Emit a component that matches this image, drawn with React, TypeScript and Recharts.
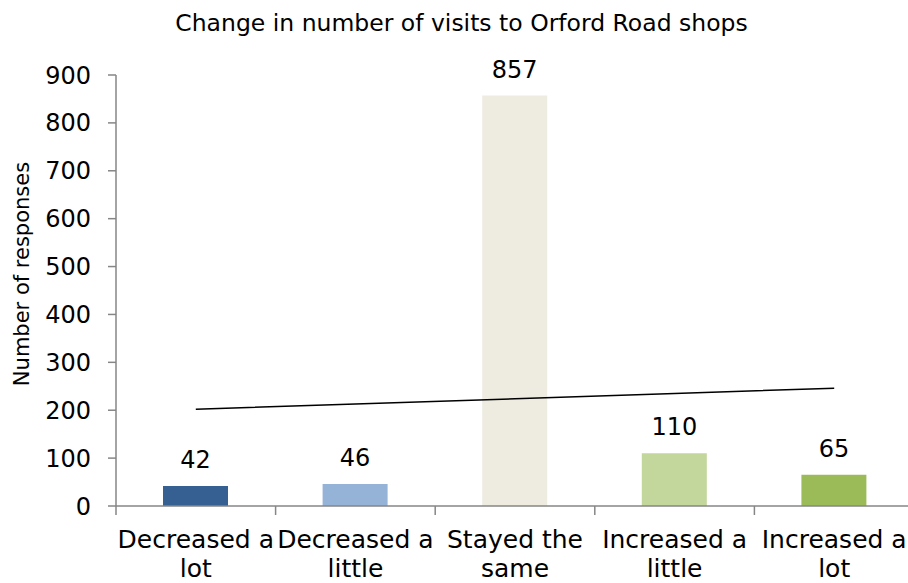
import React from 'react';
import {
  ComposedChart,
  Bar,
  Line,
  XAxis,
  YAxis,
  Cell,
  LabelList
} from 'recharts';

const categories = [
  'Decreased a lot',
  'Decreased a little',
  'Stayed the same',
  'Increased a little',
  'Increased a lot'
];
const responses = [42, 46, 857, 110, 65];
// linear trend line
const trend = [202, 213, 224, 235, 246];
const yTicks = [0, 100, 200, 300, 400, 500, 600, 700, 800, 900];

const barColors = ['#376092', '#95B3D7', '#EEECE1', '#C3D69B', '#9BBB59'];
const FONT = '"DejaVu Sans", sans-serif';
const AXIS = '#868686';

const data = categories.map((name, i) => ({
  name,
  responses: responses[i],
  trend: trend[i]
}));

// label in two lines, plus tick marks on the category boundaries (Excel style)
const CategoryTick = (props: any) => {
  const { x, y, payload, index, width, visibleTicksCount } = props;
  const half = payload.offset || width / visibleTicksCount / 2;
  const words = String(payload.value).split(' ');
  const last = words.pop();
  return (
    <g>
      <line x1={x - half} x2={x - half} y1={y} y2={y + 9} stroke={AXIS} strokeWidth={1.5} />
      {index === visibleTicksCount - 1 && (
        <line x1={x + half} x2={x + half} y1={y} y2={y + 9} stroke={AXIS} strokeWidth={1.5} />
      )}
      <text x={x} y={y} textAnchor="middle" fontSize={25} fill="#000" fontFamily={FONT}>
        <tspan x={x} dy={42}>{words.join(' ')}</tspan>
        <tspan x={x} dy={29}>{last}</tspan>
      </text>
    </g>
  );
};

const App: React.FC = () => {
  return (
    <div
      style={{
        position: 'fixed',
        left: 0,
        top: 0,
        width: 908,
        height: 583,
        overflow: 'hidden',
        background: '#fff',
        fontFamily: FONT
      }}
    >
      <div
        style={{
          position: 'absolute',
          left: 0,
          top: 12,
          width: 923,
          textAlign: 'center',
          fontSize: 23.5,
          lineHeight: '23.5px',
          color: '#000'
        }}
      >
        Change in number of visits to Orford Road shops
      </div>
      <div
        style={{
          position: 'absolute',
          left: 22,
          top: 274,
          transform: 'translate(-50%, -50%) rotate(-90deg)',
          whiteSpace: 'nowrap',
          fontSize: 21,
          lineHeight: '21px',
          color: '#000'
        }}
      >
        Number of responses
      </div>

      <ComposedChart
        width={914}
        height={583}
        data={data}
        margin={{ top: 75, right: 0, bottom: 0, left: 0 }}
      >
        <XAxis
          dataKey="name"
          height={77}
          interval={0}
          axisLine={{ stroke: AXIS, strokeWidth: 1.5 }}
          tickLine={false}
          tickSize={0}
          tickMargin={0}
          tick={<CategoryTick />}
        />
        <YAxis
          domain={[0, 900]}
          ticks={yTicks}
          width={116}
          tickSize={8}
          tickMargin={17}
          axisLine={{ stroke: AXIS, strokeWidth: 1.5 }}
          tickLine={{ stroke: AXIS, strokeWidth: 1.5 }}
          tick={{ fontSize: 24, fill: '#000', fontFamily: FONT }}
        />

        <Bar dataKey="responses" barSize={65} isAnimationActive={false}>
          {data.map((d, i) => (
            <Cell key={d.name} fill={barColors[i]} />
          ))}
          <LabelList
            dataKey="responses"
            position="top"
            offset={18}
            fontSize={24}
            fill="#000"
            fontFamily={FONT}
          />
        </Bar>

        <Line
          type="linear"
          dataKey="trend"
          stroke="#000"
          strokeWidth={1.5}
          dot={false}
          activeDot={false}
          isAnimationActive={false}
        />
      </ComposedChart>
    </div>
  );
};

export default App;
